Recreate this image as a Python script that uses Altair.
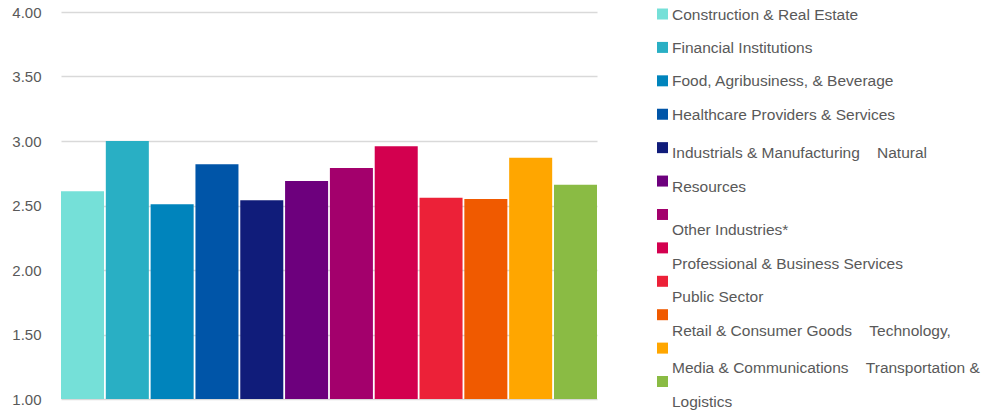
import altair as alt
import pandas as pd

industries = [
    "Construction & Real Estate",
    "Financial Institutions",
    "Food, Agribusiness, & Beverage",
    "Healthcare Providers & Services",
    "Industrials & Manufacturing",
    "Natural Resources",
    "Other Industries*",
    "Professional & Business Services",
    "Public Sector",
    "Retail & Consumer Goods",
    "Technology, Media & Communications",
    "Transportation & Logistics",
]
scores = [2.61, 3.00, 2.51, 2.82, 2.54, 2.69, 2.79, 2.96, 2.56, 2.55, 2.87, 2.66]
colors = ["#75E0D8", "#29AFC4", "#0084BC", "#0055A8", "#101C7A", "#6D007D",
          "#A3006C", "#D3004F", "#EC2138", "#F05A00", "#FFA600", "#8ABB44"]
gap = "\u00a0" * 4
legend_labels = [
    "Construction & Real Estate",
    "Financial Institutions",
    "Food, Agribusiness, & Beverage",
    "Healthcare Providers & Services",
    "Industrials & Manufacturing" + gap + "Natural",
    "Resources",
    "Other Industries*",
    "Professional & Business Services",
    "Public Sector",
    "Retail & Consumer Goods" + gap + "Technology,",
    "Media & Communications" + gap + "Transportation &",
    "Logistics",
]
y_ticks = [1.0, 1.5, 2.0, 2.5, 3.0, 3.5, 4.0]

df = pd.DataFrame({"industry": industries, "score": scores})
leg = pd.DataFrame({"industry": industries, "label": legend_labels,
                    "idx": list(range(len(industries)))})

FONT = "Liberation Sans"
TXT = "#595959"
color_scale = alt.Scale(domain=industries, range=colors)

bars = alt.Chart(df).mark_bar().encode(
    x=alt.X("industry:N", sort=industries, axis=None,
            scale=alt.Scale(paddingInner=0.04, paddingOuter=0.0)),
    y=alt.Y("score:Q",
            scale=alt.Scale(domain=[1, 4], nice=False, zero=False),
            axis=alt.Axis(values=y_ticks, format=".2f", title=None,
                          domain=False, ticks=False, labelPadding=20,
                          labelFontSize=15, labelFont=FONT, labelColor=TXT,
                          gridColor="#d9d9d9", gridWidth=1.5)),
    y2=alt.datum(1),
    color=alt.Color("industry:N", scale=color_scale, legend=None),
)

leg_y = alt.Y("idx:Q", axis=None,
              scale=alt.Scale(domain=[-0.06, 11.523], reverse=True, nice=False, zero=False))

swatches = alt.Chart(leg).mark_square(size=121, opacity=1).encode(
    x=alt.value(601.5),
    y=leg_y,
    color=alt.Color("industry:N", scale=color_scale, legend=None),
)

def label_layer(cond, dy):
    return alt.Chart(leg).transform_filter(cond).mark_text(
        align="left", baseline="middle", font=FONT, fontSize=15.5,
        color=TXT, dy=dy,
    ).encode(x=alt.value(611), y=leg_y, text="label:N")

t1 = label_layer("datum.idx < 4", 0.5)
t2 = label_layer("datum.idx >= 4 && datum.idx < 6", 5.5)
t3 = label_layer("datum.idx >= 6 && datum.idx < 10", 16)
t4 = label_layer("datum.idx >= 10", 20)

chart = alt.layer(bars, swatches, t1, t2, t3, t4).resolve_scale(
    y="independent"
).properties(
    width=536, height=387,
    padding={"left": 11, "top": 5, "right": 5, "bottom": 2},
).configure_view(stroke=None)

chart.save("out.html", embed_options={"renderer": "svg", "actions": False})
